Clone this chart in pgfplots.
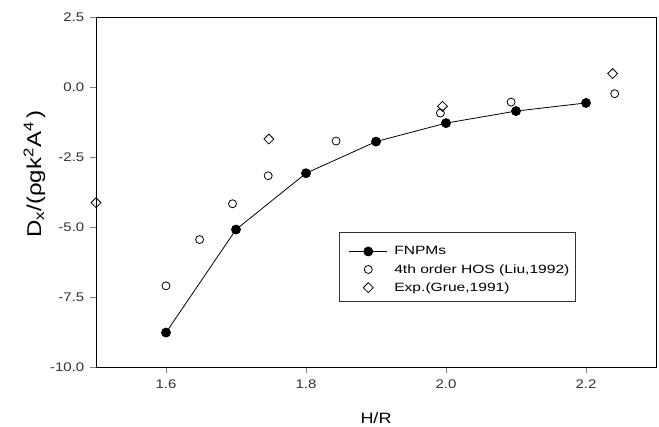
\documentclass[border=0pt]{standalone}
\usepackage{fontspec}
\setmainfont{Liberation Sans}[FakeStretch=1.2]
\newfontfamily\legfont{Liberation Sans}[FakeStretch=1.3]
\usepackage{pgfplots}
\pgfplotsset{compat=1.18}
\pgfplotsset{
  lineleg/.style={legend image code/.code={%
    \path[draw=none] (-6pt,0pt) -- (43pt,0pt) (0pt,13pt);
    \draw[##1, mark=none] plot coordinates {(0pt,0pt) (38pt,0pt)};
    \draw[##1] plot[only marks] coordinates {(19pt,0pt)};}},
  markleg/.style={legend image code/.code={%
    \path[draw=none] (-6pt,0pt) -- (43pt,0pt);
    \draw[##1] plot[only marks] coordinates {(19pt,0pt)};}},
}

\begin{document}
\begin{tikzpicture}[x=1pt,y=1pt]
\useasboundingbox (0,0) rectangle (659,426);
\begin{axis}[
  name=ax,
  at={(96pt,59pt)}, anchor=south west,
  scale only axis, width=560pt, height=350pt,
  xmin=1.5, xmax=2.3, ymin=-10, ymax=2.5,
  xtick={1.6,1.8,2.0,2.2}, ytick={-10,-7.5,-5,-2.5,0,2.5},
  tick align=outside, major tick length=6pt,
  xtick pos=bottom, ytick pos=left,
  every axis/.append style={line width=0.8pt},
  /pgf/number format/assume math mode=true,
  /pgf/number format/fixed, /pgf/number format/fixed zerofill,
  /pgf/number format/precision=1,
  ticklabel style={font=\fontsize{12.5}{14}\selectfont, black!80},
  yticklabel style={xshift=-2pt},
  xticklabel style={yshift=-3pt},
  xlabel={H/R},
  xlabel style={font=\fontsize{15}{18}\selectfont, at={(axis description cs:0.5,-0.161)}, anchor=base},
  ylabel={D\textsubscript{x}/(ρgk\textsuperscript{2}A\textsuperscript{4}\,)},
  ylabel style={font=\fontsize{20}{24}\selectfont, at={(axis description cs:-0.0982,0.551)}, anchor=base, rotate=0},
  legend style={at={(axis description cs:0.4339,0.3866)}, anchor=north west,
    font=\legfont\fontsize{12}{14}\selectfont, draw=black!80, line width=0.6pt,
    row sep=4pt, inner xsep=4pt, inner ysep=6.5pt},
  legend cell align=left,
]
\addplot[black, line width=0.8pt, mark=*, mark size=4.5pt, lineleg]
  coordinates {(1.6,-8.77) (1.7,-5.09) (1.8,-3.08) (1.9,-1.95) (2.0,-1.29) (2.1,-0.86) (2.2,-0.57)};
\addlegendentry{FNPMs}
\addplot[only marks, black, line width=0.8pt, mark=o, mark size=4pt, markleg]
  coordinates {(1.6,-7.1) (1.648,-5.45) (1.695,-4.17) (1.746,-3.17) (1.843,-1.93) (1.992,-0.93) (2.093,-0.54) (2.241,-0.24)};
\addlegendentry{4th order HOS (Liu,1992)}
\addplot[only marks, black, line width=0.8pt, mark=square, mark size=3.5pt, mark options={rotate=45}, markleg]
  coordinates {(1.5,-4.13) (1.747,-1.86) (1.995,-0.69) (2.238,0.48)};
\addlegendentry{Exp.(Grue,1991)}
\end{axis}
\end{tikzpicture}
\end{document}
